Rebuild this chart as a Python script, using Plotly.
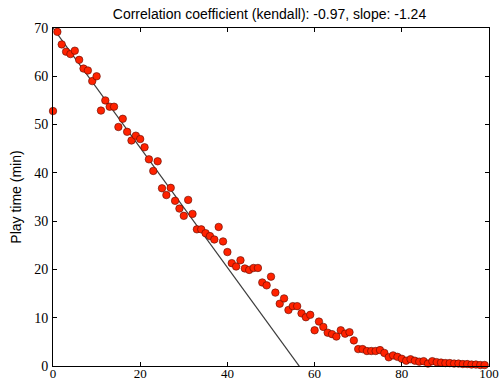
import plotly.graph_objects as go

x_vals = list(range(100))
play_time = [
    52.8, 69.2, 66.6, 65.1, 64.6, 65.3, 63.4, 61.6, 61.2, 59.0,
    60.0, 52.9, 55.0, 53.7, 53.7, 49.5, 51.2, 48.5, 46.7, 47.7,
    47.0, 45.3, 42.8, 40.4, 42.4, 36.8, 35.4, 36.9, 34.2, 32.6,
    31.1, 34.4, 31.5, 28.3, 28.3, 27.5, 26.9, 26.2, 28.8, 25.8,
    23.6, 21.3, 20.6, 21.9, 20.2, 19.9, 20.3, 20.3, 17.3, 16.7,
    18.5, 15.2, 12.9, 14.0, 11.6, 12.4, 12.4, 10.9, 10.1, 10.6,
    7.4, 9.2, 8.1, 6.9, 6.6, 6.1, 7.4, 6.7, 7.0, 5.3,
    3.5, 3.5, 3.1, 3.1, 3.1, 3.3, 2.7, 1.8, 2.2, 1.9,
    1.5, 1.1, 1.4, 1.1, 0.9, 1.0, 0.5, 1.0, 0.8, 0.7,
    0.6, 0.6, 0.5, 0.5, 0.4, 0.4, 0.3, 0.3, 0.2, 0.2,
]
slope = -1.24
intercept = 70.0
fit_x = [0, 100]
fit_y = [intercept + slope * v for v in fit_x]

x_ticks = [0, 20, 40, 60, 80, 100]
y_ticks = [0, 10, 20, 30, 40, 50, 60, 70]
title_text = "Correlation coefficient (kendall): -0.97, slope: -1.24"

fig = go.Figure()
fig.add_trace(go.Scatter(
    x=fit_x, y=fit_y, mode="lines",
    line=dict(color="#3c3c3c", width=1.2),
    hoverinfo="skip", showlegend=False,
))
fig.add_trace(go.Scatter(
    x=x_vals, y=play_time, mode="markers",
    marker=dict(size=7.5, color="#ff2200", line=dict(color="#5a0a00", width=0.6)),
    showlegend=False, cliponaxis=False,
))

serif = "Liberation Serif, Times New Roman, DejaVu Serif, serif"
axis_common = dict(
    showgrid=False, zeroline=False, showline=True, linecolor="black", linewidth=1,
    mirror="ticks", ticks="inside", ticklen=4, tickcolor="black", automargin=False,
)
fig.update_xaxes(range=[0, 100], tickvals=x_ticks, ticklabelstandoff=-5,
                 tickfont=dict(family=serif, size=13, color="black"), **axis_common)
fig.update_yaxes(range=[0, 70], tickvals=y_ticks, ticklabelstandoff=1,
                 tickfont=dict(family=serif, size=14, color="black"),
                 title=dict(text="Play time (min)", standoff=9,
                            font=dict(family="Liberation Sans", size=14, color="black")),
                 **axis_common)

fig.update_layout(
    width=500, height=382,
    margin=dict(l=53, r=11, t=28, b=16),
    plot_bgcolor="white", paper_bgcolor="white",
    title=dict(text=title_text, x=0.539, xanchor="center", y=1 - 14 / 382, yanchor="middle",
               font=dict(family="Liberation Sans", size=14, color="black")),
)

fig.write_html(
    "out.html",
    config={"displayModeBar": False},
    post_script="document.body.style.margin='0';document.body.style.overflow='hidden';",
)
